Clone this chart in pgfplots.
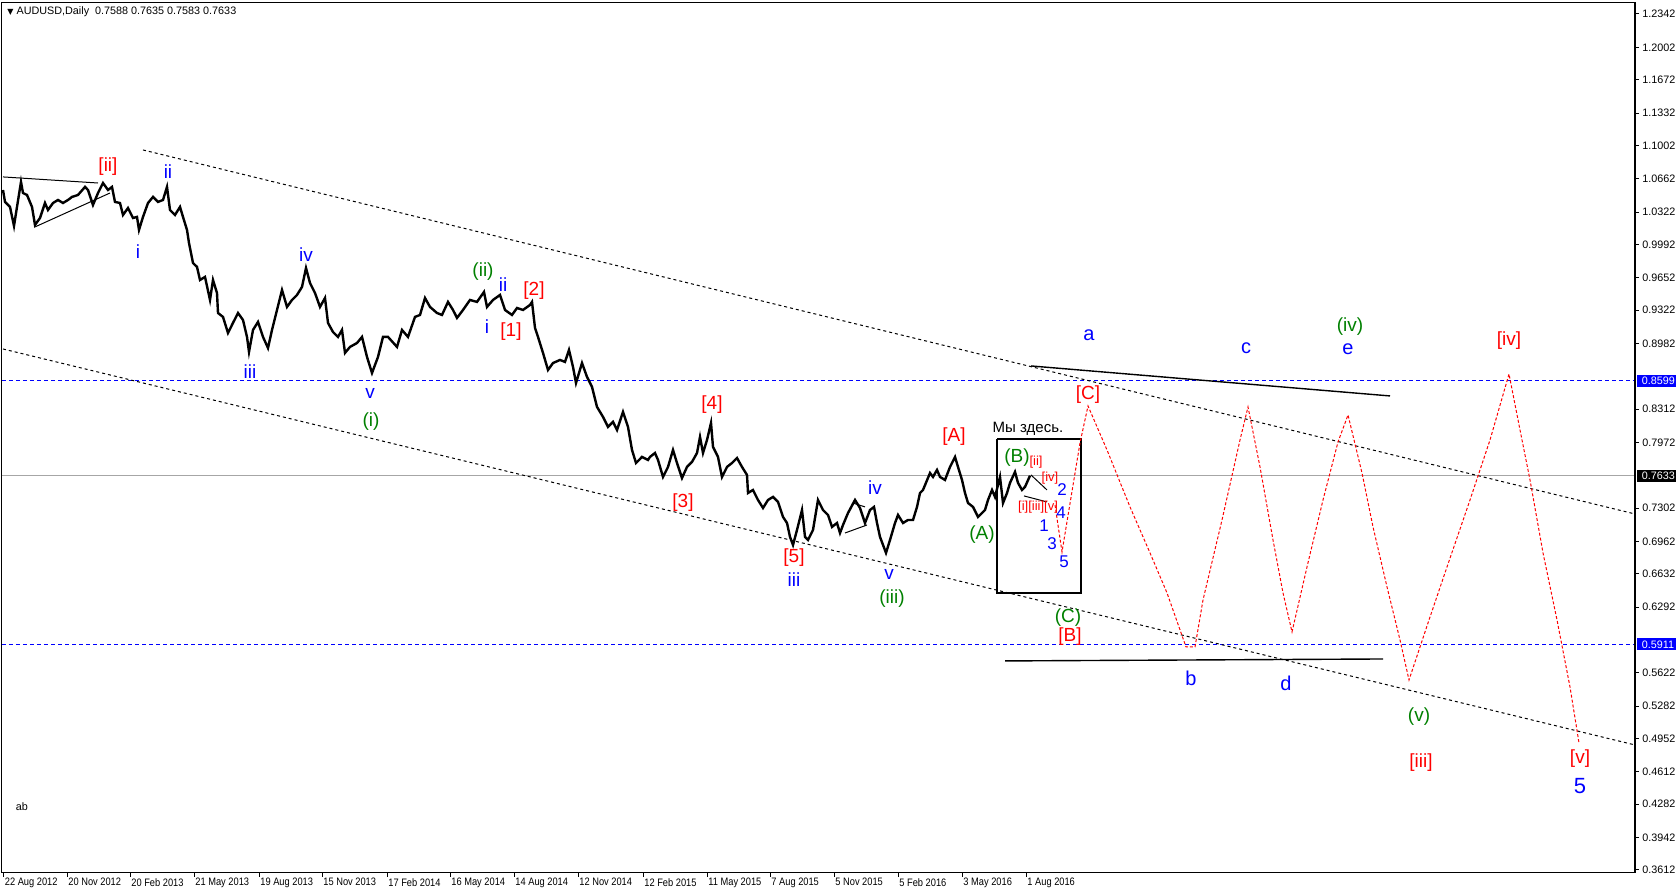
\documentclass[border=0pt]{standalone}
\usepackage{pgfplots}
\pgfplotsset{compat=1.18}
\usepackage{fontspec}
\setmainfont{Liberation Sans}
\newfontfamily\djv{DejaVu Sans}
\newfontfamily\cond[FakeStretch=0.86]{Liberation Sans}
\definecolor{mtblue}{RGB}{0,0,255}
\definecolor{mtred}{RGB}{255,0,0}
\definecolor{mtgreen}{RGB}{0,128,0}
\newcommand\tk{\fontsize{5.4}{6}\selectfont}

\begin{document}
\begin{tikzpicture}[
  lb/.style={font=\fontsize{9.5}{10}\selectfont, inner sep=0pt},
  sm/.style={font=\fontsize{6.5}{7}\selectfont, inner sep=0pt, text=mtred},
  nb/.style={font=\fontsize{8.5}{9}\selectfont, inner sep=0pt, text=mtblue},
  chan/.style={black, line width=0.5pt, dash pattern=on 1.5pt off 1.5pt},
  lvl/.style={mtblue, line width=0.5pt, dash pattern=on 2pt off 1.5pt},
  tag/.style={font=\tk, anchor=west, inner xsep=2.5pt, inner ysep=0pt, minimum height=6pt, text=white}
]
\begin{axis}[
  scale only axis, width=816.5pt, height=435pt,
  xmin=2, xmax=1635, ymin=0.35802, ymax=1.24542,
  axis line style={black, line width=0.5pt},
  clip=false,
  tick align=outside, major tick length=2pt,
  tick style={black, line width=0.5pt},
  xtick pos=bottom, ytick pos=right, yticklabel pos=right,
  xtick={3.5,67,130,194,259,322,387,450,514,578,643,707,770,834,898,962,1026},
  xticklabels={22 Aug 2012,20 Nov 2012,20 Feb 2013,21 May 2013,19 Aug 2013,15 Nov 2013,17 Feb 2014,16 May 2014,14 Aug 2014,12 Nov 2014,12 Feb 2015,11 May 2015,7 Aug 2015,5 Nov 2015,5 Feb 2016,3 May 2016,1 Aug 2016},
  xticklabel style={font=\cond\tk, anchor=north west, inner sep=0pt, xshift=0.5pt, yshift=-0.5pt},
  ytick={1.2342,1.2002,1.1672,1.1332,1.1002,1.0662,1.0322,0.9992,0.9652,0.9322,0.8982,0.8312,0.7972,0.7302,0.6962,0.6632,0.6292,0.5622,0.5282,0.4952,0.4612,0.4282,0.3942,0.3612},
  yticklabels={1.2342,1.2002,1.1672,1.1332,1.1002,1.0662,1.0322,0.9992,0.9652,0.9322,0.8982,0.8312,0.7972,0.7302,0.6962,0.6632,0.6292,0.5622,0.5282,0.4952,0.4612,0.4282,0.3942,0.3612},
  yticklabel style={font=\tk, anchor=west, inner sep=0pt, xshift=1.5pt},
]
% horizontal levels
\addplot[lvl] coordinates {(2,0.8599) (1635,0.8599)};
\addplot[lvl] coordinates {(2,0.5911) (1635,0.5911)};
\addplot[gray!70, line width=0.5pt] coordinates {(2,0.7633) (1635,0.7633)};

% channel lines
\addplot[chan] coordinates {(143,1.0955) (1635,0.7242)};
\addplot[chan] coordinates {(3,0.8925) (1635,0.4886)};

% solid trend lines
\addplot[black, line width=0.5pt] coordinates {(3,1.0680) (98,1.0618)};
\addplot[black, line width=0.5pt] coordinates {(35,1.0170) (110,1.0516)};
\addplot[black, line width=0.5pt] coordinates {(845,0.7048) (867,0.7130)};
\addplot[black, line width=0.5pt] coordinates {(853,0.7354) (865,0.7314)};
\addplot[black, line width=0.5pt] coordinates {(1031,0.7640) (1047,0.7487)};
\addplot[black, line width=0.5pt] coordinates {(1024,0.7426) (1047,0.7365)};
\addplot[black, line width=0.7pt] coordinates {(1031,0.8752) (1390,0.8446)};
\addplot[black, line width=0.7pt] coordinates {(1005,0.5743) (1383,0.5763)};

% box
\addplot[black, line width=0.6pt] coordinates {(997,0.8007) (1081,0.8007) (1081,0.6437) (997,0.6437) (997,0.8007)};

% price
\addplot[black, line width=1.2pt] table {
x y
3 1.0547
5 1.0425
10 1.0374
14 1.0180
17 1.0374
21 1.0629
23 1.0516
27 1.0496
32 1.0374
35 1.0190
40 1.0261
45 1.0414
48 1.0343
53 1.0414
58 1.0445
63 1.0414
68 1.0445
72 1.0476
78 1.0496
85 1.0578
88 1.0547
93 1.0394
98 1.0516
103 1.0618
108 1.0547
112 1.0578
115 1.0425
120 1.0414
123 1.0292
128 1.0363
133 1.0261
137 1.0272
139 1.0139
143 1.0272
148 1.0414
153 1.0476
158 1.0425
163 1.0445
167 1.0578
170 1.0343
175 1.0292
180 1.0374
183 1.0272
187 1.0139
189 1.0006
193 0.9802
197 0.9762
200 0.9629
205 0.9660
210 0.9425
213 0.9629
217 0.9496
218 0.9292
223 0.9252
228 0.9088
233 0.9191
238 0.9292
243 0.9221
247 0.9048
249 0.8895
253 0.9119
258 0.9201
263 0.9048
268 0.8935
272 0.9119
277 0.9323
282 0.9527
287 0.9354
292 0.9425
297 0.9476
302 0.9558
306 0.9751
310 0.9598
315 0.9496
320 0.9354
325 0.9445
328 0.9191
333 0.9098
338 0.9048
342 0.9119
345 0.8885
350 0.8946
357 0.8986
362 0.9048
367 0.8844
372 0.8680
378 0.8844
383 0.9048
388 0.9048
397 0.8946
402 0.9119
408 0.9048
415 0.9252
420 0.9272
425 0.9445
430 0.9354
437 0.9292
442 0.9272
448 0.9405
453 0.9323
457 0.9242
463 0.9323
470 0.9425
477 0.9405
484 0.9507
487 0.9354
493 0.9425
500 0.9476
505 0.9323
512 0.9272
517 0.9343
523 0.9323
530 0.9374
532 0.9405
535 0.9140
538 0.9048
543 0.8885
548 0.8711
553 0.8782
560 0.8813
565 0.8793
569 0.8915
573 0.8742
576 0.8578
582 0.8782
587 0.8640
592 0.8538
597 0.8334
603 0.8232
608 0.8130
613 0.8181
617 0.8099
623 0.8283
628 0.8130
632 0.7895
636 0.7762
642 0.7824
648 0.7793
650 0.7824
655 0.7864
658 0.7793
663 0.7620
668 0.7722
673 0.7895
677 0.7762
682 0.7609
687 0.7722
692 0.7773
697 0.7864
700 0.8028
703 0.7864
707 0.7997
711 0.8170
713 0.7926
718 0.7824
722 0.7620
727 0.7722
732 0.7762
737 0.7813
742 0.7722
747 0.7640
748 0.7456
753 0.7487
758 0.7385
763 0.7303
768 0.7385
773 0.7416
778 0.7365
783 0.7212
787 0.7150
790 0.7008
793 0.6926
797 0.7079
802 0.7283
805 0.7008
808 0.6977
813 0.7079
818 0.7385
823 0.7283
828 0.7232
832 0.7110
837 0.7150
840 0.7048
843 0.7130
848 0.7252
855 0.7385
860 0.7303
865 0.7150
870 0.7283
874 0.7314
877 0.7150
880 0.7008
886 0.6845
890 0.6977
895 0.7150
898 0.7232
903 0.7150
908 0.7181
913 0.7181
917 0.7314
920 0.7456
923 0.7487
930 0.7660
933 0.7620
937 0.7691
940 0.7620
945 0.7589
950 0.7722
955 0.7824
958 0.7722
962 0.7589
965 0.7456
968 0.7354
973 0.7314
978 0.7212
982 0.7252
985 0.7283
988 0.7385
992 0.7487
995 0.7416
1000 0.7620
1003 0.7354
1007 0.7456
1010 0.7559
1015 0.7671
1018 0.7559
1022 0.7487
1025 0.7518
1030 0.7633
};

% projected path
\addplot[mtred, line width=0.5pt, dash pattern=on 1.5pt off 1pt] table {
x y
1055 0.7334
1062 0.6855
1080 0.7967
1088 0.8344
1107 0.7895
1130 0.7314
1150 0.6845
1167 0.6437
1186 0.5886
1195 0.5886
1203 0.6365
1222 0.7181
1240 0.7997
1248 0.8334
1260 0.7722
1273 0.6977
1283 0.6437
1292 0.6039
1307 0.6702
1323 0.7385
1338 0.7977
1348 0.8252
1362 0.7660
1373 0.7110
1387 0.6498
1400 0.5957
1409 0.5549
1420 0.5886
1430 0.6191
1447 0.6702
1470 0.7385
1490 0.7997
1509 0.8670
1520 0.8099
1530 0.7589
1543 0.6845
1557 0.6161
1570 0.5477
1579 0.4906
};

% wave labels
\node[lb, text=mtred] at (axis cs:108,1.0782) {[ii]};
\node[lb, text=mtblue] at (axis cs:168,1.0731) {ii};
\node[lb, text=mtblue] at (axis cs:138,0.9915) {i};
\node[lb, text=mtblue] at (axis cs:306,0.9884) {iv};
\node[lb, text=mtblue] at (axis cs:250,0.8691) {iii};
\node[lb, text=mtblue] at (axis cs:370,0.8476) {v};
\node[lb, text=mtgreen] at (axis cs:371,0.8181) {(i)};
\node[lb, text=mtgreen] at (axis cs:483,0.9711) {(ii)};
\node[lb, text=mtblue] at (axis cs:503,0.9578) {ii};
\node[lb, text=mtblue] at (axis cs:487,0.9150) {i};
\node[lb, text=mtred] at (axis cs:534,0.9517) {[2]};
\node[lb, text=mtred] at (axis cs:511,0.9099) {[1]};
\node[lb, text=mtred] at (axis cs:712,0.8354) {[4]};
\node[lb, text=mtred] at (axis cs:683,0.7354) {[3]};
\node[lb, text=mtred] at (axis cs:794,0.6793) {[5]};
\node[lb, text=mtblue] at (axis cs:794,0.6569) {iii};
\node[lb, text=mtblue] at (axis cs:875,0.7507) {iv};
\node[lb, text=mtblue] at (axis cs:889,0.6620) {v};
\node[lb, text=mtgreen] at (axis cs:892,0.6375) {(iii)};
\node[lb, text=mtred] at (axis cs:954,0.8028) {[A]};
\node[lb, text=mtgreen] at (axis cs:982,0.7028) {(A)};
\node[lb, text=mtgreen] at (axis cs:1017,0.7813) {(B)};
\node[inner sep=0pt, font=\fontsize{7.5}{8}\selectfont] at (axis cs:1028,0.8109) {Мы здесь.};
\node[sm] at (axis cs:1036,0.7773) {[ii]};
\node[sm] at (axis cs:1050,0.7609) {[iv]};
\node[sm] at (axis cs:1038,0.7314) {[i][iii][v]};
\node[nb] at (axis cs:1062,0.7487) {2};
\node[nb] at (axis cs:1061,0.7252) {4};
\node[nb] at (axis cs:1044,0.7120) {1};
\node[nb] at (axis cs:1052,0.6936) {3};
\node[nb] at (axis cs:1064,0.6753) {5};
\node[lb, text=mtgreen] at (axis cs:1068,0.6181) {(C)};
\node[lb, text=mtred] at (axis cs:1070,0.5987) {[B]};
\node[lb, text=mtred] at (axis cs:1088,0.8456) {[C]};
\node[lb, text=mtblue, font=\fontsize{10}{11}\selectfont] at (axis cs:1089,0.9068) {a};
\node[lb, text=mtblue, font=\fontsize{10}{11}\selectfont] at (axis cs:1191,0.5569) {b};
\node[lb, text=mtblue, font=\fontsize{10}{11}\selectfont] at (axis cs:1246,0.8935) {c};
\node[lb, text=mtblue, font=\fontsize{10}{11}\selectfont] at (axis cs:1286,0.5518) {d};
\node[lb, text=mtgreen] at (axis cs:1350,0.9150) {(iv)};
\node[lb, text=mtblue, font=\fontsize{10}{11}\selectfont] at (axis cs:1348,0.8925) {e};
\node[lb, text=mtred] at (axis cs:1509,0.9007) {[iv]};
\node[lb, text=mtgreen] at (axis cs:1419,0.5171) {(v)};
\node[lb, text=mtred] at (axis cs:1421,0.4702) {[iii]};
\node[lb, text=mtred] at (axis cs:1580,0.4743) {[v]};
\node[lb, text=mtblue, font=\fontsize{11}{12}\selectfont] at (axis cs:1580,0.4468) {5};
\node[inner sep=0pt, font=\tk] at (axis cs:22,0.4254) {ab};

% header
\node[anchor=west, inner sep=0pt, font=\tk] at (axis cs:7,1.2362) {{\djv\fontsize{4}{5}\selectfont ▼}\ AUDUSD,Daily\ \ 0.7588 0.7635 0.7583 0.7633};

% price tags
\node[tag, fill=mtblue] at (axis cs:1636.5,0.8599) {0.8599};
\node[tag, fill=black] at (axis cs:1636.5,0.7633) {0.7633};
\node[tag, fill=mtblue] at (axis cs:1636.5,0.5911) {0.5911};
\end{axis}
\draw[black, line width=1.2pt] (current axis.south east) -- (current axis.north east);
\pgfresetboundingbox
\path ([shift={(-1pt,-10.5pt)}]current axis.south west) rectangle ([shift={(20.5pt,1.5pt)}]current axis.north east);
\end{tikzpicture}
\end{document}
